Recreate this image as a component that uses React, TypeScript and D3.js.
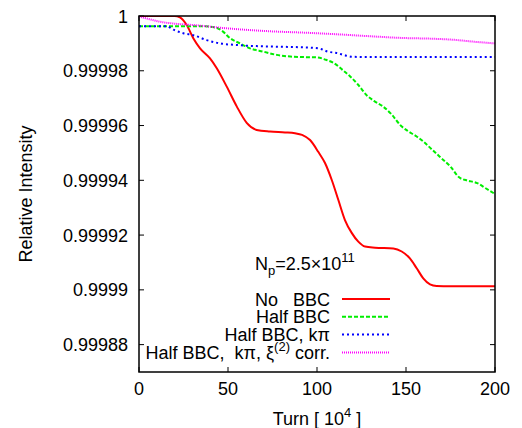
import React from "react";
import * as d3 from "d3";

const redTurns = [0, 10, 20, 23, 26.8, 30.5, 34.3, 39.9, 43.6, 49.3, 54.9, 60.5, 66.1, 73.6, 82, 87.6, 91.6, 96.1, 100.7, 104.5, 108.3, 112, 115.7, 119.5, 123.2, 127, 132.6, 142.9, 147.6, 152.2, 156, 159.7, 163.5, 167.2, 175, 190, 200];
const redVals = [1.0, 1.0, 1.0, 0.9999995, 0.9999967, 0.9999919, 0.9999882, 0.9999845, 0.999981, 0.9999742, 0.999967, 0.999961, 0.9999584, 0.9999578, 0.9999575, 0.9999572, 0.9999566, 0.9999547, 0.9999504, 0.9999463, 0.9999401, 0.9999328, 0.9999255, 0.9999208, 0.9999176, 0.9999158, 0.9999154, 0.9999151, 0.999914, 0.9999115, 0.9999079, 0.9999042, 0.999902, 0.9999014, 0.9999013, 0.9999013, 0.9999013];

const greenTurns = [0, 20, 36, 41, 44.5, 47.4, 51, 56.7, 62.4, 69.8, 77.4, 85, 92, 100, 105, 109, 114, 118.5, 123, 128, 132, 137, 142, 147, 151, 156, 160, 165, 170, 175, 180, 184, 190, 195, 200];
const greenVals = [0.9999963, 0.9999963, 0.9999963, 0.999996, 0.9999954, 0.9999942, 0.999992, 0.99999, 0.9999882, 0.999987, 0.9999858, 0.9999852, 0.999985, 0.9999849, 0.999984, 0.999983, 0.9999805, 0.999978, 0.999975, 0.999971, 0.999969, 0.999967, 0.999964, 0.99996, 0.999958, 0.999956, 0.999954, 0.999951, 0.999948, 0.999945, 0.999941, 0.99994, 0.999939, 0.999937, 0.999935];

const blueTurns = [0, 15.5, 19.3, 24.9, 30.5, 38, 45.5, 54.9, 66, 77.4, 90, 97, 102, 106, 111, 116, 120, 130, 200];
const blueVals = [0.9999963, 0.9999963, 0.999995, 0.9999937, 0.999993, 0.9999912, 0.99999, 0.9999894, 0.999989, 0.9999888, 0.9999886, 0.9999884, 0.999988, 0.999987, 0.9999865, 0.9999856, 0.9999851, 0.999985, 0.999985];

const magTurns = [0, 5, 11.8, 20, 30.5, 49.3, 77.4, 90, 109, 130, 147, 165, 175, 190, 200];
const magVals = [0.9999998, 0.9999990, 0.9999979, 0.9999972, 0.9999967, 0.9999955, 0.9999943, 0.999994, 0.9999934, 0.9999926, 0.999992, 0.9999917, 0.9999914, 0.9999905, 0.99999];

const xTicks = [0, 50, 100, 150, 200];
const yTicks = [1.0, 0.99998, 0.99996, 0.99994, 0.99992, 0.9999, 0.99988];
const yTickLabels = ["1", "0.99998", "0.99996", "0.99994", "0.99992", "0.9999", "0.99988"];

const W = 522, H = 428;
const L = 139, R = 495, T = 16, B = 372;
const FONT = "'Liberation Sans', Arial, Helvetica, sans-serif";
const FS = 18;
const SFS = 13;

export default function App() {
  const x = d3.scaleLinear().domain([0, 200]).range([L, R]);
  const y = d3.scaleLinear().domain([0.99987, 1.0]).range([B, T]);
  const line = d3
    .line<[number, number]>()
    .x((d) => x(d[0]))
    .y((d) => y(d[1]))
    .curve(d3.curveMonotoneX);
  const mk = (t: number[], v: number[]) => line(t.map((tt, i) => [tt, v[i]] as [number, number])) || "";

  const series = [
    { name: "red", d: mk(redTurns, redVals), color: "#ff0000", dash: "none", w: 2 },
    { name: "green", d: mk(greenTurns, greenVals), color: "#00ee00", dash: "4,2", w: 2 },
    { name: "blue", d: mk(blueTurns, blueVals), color: "#0000ff", dash: "2,3", w: 2 },
    { name: "mag", d: mk(magTurns, magVals), color: "#ff00ff", dash: "1,1", w: 2 },
  ];

  const legendX1 = 342, legendX2 = 390, legendTextX = 330;
  const legendY = [299, 316.7, 334.5, 352.5];

  return (
    <svg width={W} height={H} style={{ position: "absolute", left: 0, top: 0, background: "#fff" }} fontFamily={FONT}>
      <rect x={0} y={0} width={W} height={H} fill="#fff" />
      <defs>
        <clipPath id="plotclip">
          <rect x={L} y={T} width={R - L} height={B - T} />
        </clipPath>
      </defs>
      {xTicks.map((t) => (
        <g key={"xt" + t}>
          <line x1={x(t)} x2={x(t)} y1={B} y2={B - 5} stroke="#000" strokeWidth={1} />
          <line x1={x(t)} x2={x(t)} y1={T} y2={T + 5} stroke="#000" strokeWidth={1} />
          <text x={x(t)} y={395} fontSize={FS} textAnchor="middle" fill="#000">{t}</text>
        </g>
      ))}
      {yTicks.map((t, i) => (
        <g key={"yt" + i}>
          <line x1={L} x2={L + 5} y1={y(t)} y2={y(t)} stroke="#000" strokeWidth={1} />
          <line x1={R} x2={R - 5} y1={y(t)} y2={y(t)} stroke="#000" strokeWidth={1} />
          <text x={128} y={y(t) + 6.5} fontSize={FS} textAnchor="end" fill="#000">{yTickLabels[i]}</text>
        </g>
      ))}
      <g clipPath="url(#plotclip)">
        {series.map((s) => (
          <path key={s.name} d={s.d} fill="none" stroke={s.color} strokeWidth={s.w} strokeDasharray={s.dash} />
        ))}
      </g>
      <rect x={L} y={T} width={R - L} height={B - T} fill="none" stroke="#000" strokeWidth={1.5} />
      <text transform={`translate(32,${(T + B) / 2}) rotate(-90)`} fontSize={FS} textAnchor="middle" fill="#000">Relative Intensity</text>
      <text x={(L + R) / 2} y={425} fontSize={FS} textAnchor="middle" fill="#000">
        Turn [ 10<tspan dy={-8} fontSize={SFS}>4</tspan><tspan dy={8}> ]</tspan>
      </text>
      <text x={255} y={270} fontSize={FS} fill="#000">
        N<tspan dy={5} fontSize={SFS}>p</tspan><tspan dy={-5}>=2.5×10</tspan><tspan dy={-8} fontSize={SFS}>11</tspan>
      </text>
      <text x={legendTextX} y={legendY[0] + 6.5} fontSize={FS} textAnchor="end" fill="#000">No{"\u00a0\u00a0\u00a0"}BBC</text>
      <text x={legendTextX} y={legendY[1] + 6.5} fontSize={FS} textAnchor="end" fill="#000">Half BBC</text>
      <text x={legendTextX} y={legendY[2] + 6.5} fontSize={FS} textAnchor="end" fill="#000">Half BBC, kπ</text>
      <text x={legendTextX} y={legendY[3] + 6.5} fontSize={FS} textAnchor="end" fill="#000">
        Half BBC,{"\u00a0\u00a0"}kπ, ξ<tspan dy={-8} fontSize={SFS}>(2)</tspan><tspan dy={8}> corr.</tspan>
      </text>
      {series.map((s, i) => (
        <line key={"lg" + i} x1={legendX1} x2={legendX2} y1={legendY[i]} y2={legendY[i]} stroke={s.color} strokeWidth={s.w} strokeDasharray={s.dash} />
      ))}
    </svg>
  );
}
